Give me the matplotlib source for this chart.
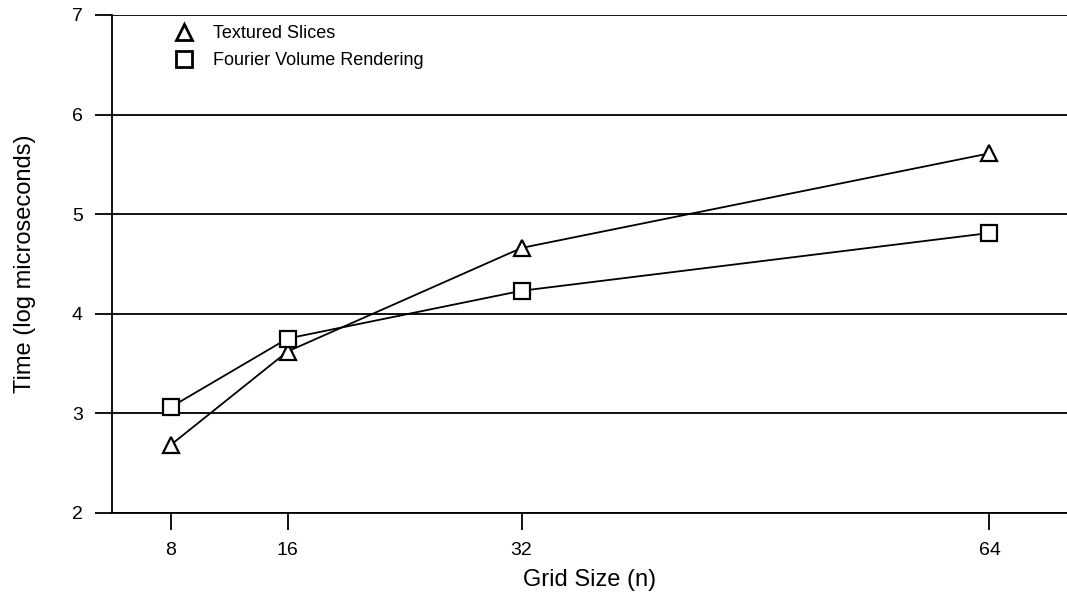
import matplotlib
matplotlib.use("Agg")
import matplotlib.pyplot as plt

plt.rcParams["font.family"] = ["Liberation Sans", "DejaVu Sans"]

grid_n = [8, 16, 32, 64]
textured = [2.68, 3.62, 4.66, 5.61]
fourier = [3.06, 3.75, 4.23, 4.81]
yticks = [2, 3, 4, 5, 6, 7]

fig = plt.figure(figsize=(10.67, 5.97), dpi=100)
ax = fig.add_axes([0.105, 0.141, 0.895, 0.834])

ax.plot(grid_n, textured, "-^", color="black", lw=1.3, ms=12, mfc="white",
        mec="black", mew=1.6, label="Textured Slices", clip_on=False)
ax.plot(grid_n, fourier, "-s", color="black", lw=1.3, ms=11, mfc="white",
        mec="black", mew=1.6, label="Fourier Volume Rendering", clip_on=False)

ax.set_xlim(4, 69.3)
ax.set_ylim(2, 7)
ax.set_xticks(grid_n)
ax.set_yticks(yticks)
ax.yaxis.grid(True, color="black", lw=1.3)
ax.set_axisbelow(True)
for s in ("top", "right"):
    ax.spines[s].set_visible(False)
for s in ("left", "bottom"):
    ax.spines[s].set_linewidth(1.3)
ax.tick_params(direction="out", length=12, width=1.3, labelsize=14, pad=9)

ax.set_xlabel("Grid Size (n)", fontsize=17, labelpad=7)
ax.set_ylabel("Time (log microseconds)", fontsize=17, labelpad=26)

leg = ax.legend(loc="upper left", bbox_to_anchor=(0.058, 1.012), frameon=False,
                fontsize=13, handlelength=0, handletextpad=1.6,
                labelspacing=0.55, markerscale=1.0)
for h in leg.legend_handles:
    h.set_linestyle("none")
    h.set_markeredgewidth(2.0)

fig.savefig("out.png", dpi=100)
